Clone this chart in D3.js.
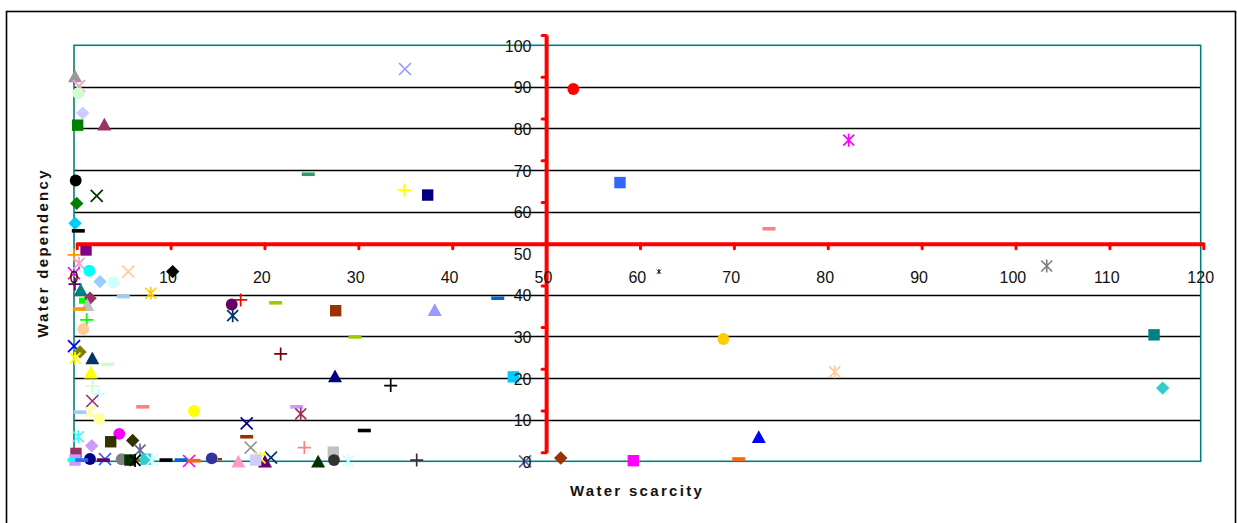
<!DOCTYPE html>
<html>
<head>
<meta charset="utf-8">
<script src="https://cdn.jsdelivr.net/npm/d3@7"></script>
<style>
  html, body { margin: 0; padding: 0; background: #fff; }
  svg { display: block; font-family: Arial, "Liberation Sans", sans-serif; }
</style>
</head>
<body>
<svg id="chart" width="1237" height="523"></svg>
<script>
// ---------------- data ----------------
const xTickValues = [0, 10, 20, 30, 40, 50, 60, 70, 80, 90, 100, 110, 120];
const yTickValues = [0, 10, 20, 30, 40, 50, 60, 70, 80, 90, 100];
const gridValues = [10, 20, 30, 40, 60, 70, 80, 90];
const xTitle = "Water scarcity";
const yTitle = "Water dependency";

// one entry per country (x = water scarcity, y = water dependency)
const scarcity = [
  0.11, 0.53, 0.46, 0.93, 0.39, 3.23, 0.18, 2.42, 0.29, 0.11, 0.46, 1.28,
  35.25, 24.95, 35.18, 37.67, 53.18, 58.15, 74.02, 82.51, 103.6, 115.03, 115.95, 81.02,
  69.16, 72.93, 70.8, 59.57, 51.84, 48.04, 36.5, 38.42, 45.13, 46.79, 62.3,
  10.51, 8.17, 17.75, 16.8, 16.9, 21.48, 27.87, 29.93, 22.01, 27.8, 7.32, 12.78,
  23.72, 24.15, 18.39, 30.92, 33.73, 18.39, 18.82, 24.53, 27.62, 27.69, 29.2, 26.0,
  20.98, 20.34, 19.81, 19.35, 17.5, 14.67, 12.25, 11.4, 12.78, 9.8,
  0.46, 1.89, 4.82, 3.91, 6.25, 7.03, 0.21, 0.11, 1.7, 3.3, 5.08, 6.39, 5.96, 7.67, 8.28,
  0.0, 0.53, 0.0, 0.1, 1.63, 2.77, 4.19, 5.78, 0.71, 1.7, 1.42, 0.85, 0.56, 5.25, 1.35, 0.99,
  0.0, 0.64, 0.11, 1.95, 3.59, 1.78, 1.95, 2.59, 1.95, 0.64, 1.7, 2.69,
  0.0, 0.82, 3.12, 6.5, 15.55
];
const dependency = [
  92.6, 90.2, 88.5, 83.7, 80.8, 81.0, 67.5, 63.8, 62.0, 57.2, 55.4, 50.8,
  94.3, 69.0, 65.2, 64.0, 89.5, 67.0, 55.9, 77.2, 46.95, 30.4, 17.6, 21.5,
  29.4, 5.9, 0.55, 0.15, 0.8, 0.0, 0.3, 36.4, 39.2, 20.3, 45.6,
  45.6, 40.4, 38.8, 37.7, 35.0, 38.1, 36.2, 29.9, 25.8, 20.5, 13.1, 12.1,
  13.1, 11.4, 9.1, 7.4, 18.2, 5.9, 3.3, 3.3, 2.2, 0.3, 0.07, 0.0,
  0.9, 0.0, 0.8, 0.3, 0.0, 0.7, 0.07, 0.3, 0.15, 0.3,
  5.9, 3.75, 6.6, 4.7, 5.0, 2.7, 1.9, 0.3, 0.55, 0.5, 0.5, 0.3, 0.3, 0.5, 0.3,
  49.6, 47.6, 45.2, 42.6, 45.8, 43.2, 43.0, 45.6, 41.2, 39.2, 37.6, 38.6, 36.6, 39.6, 34.0, 31.8,
  27.7, 26.3, 24.8, 24.8, 23.3, 21.4, 18.1, 16.2, 14.5, 11.8, 11.9, 10.2,
  0.3, 0.3, 0.3, 0.2, 0.5
];
// marker style of each series (Excel-like marker set)
const markerSymbol = [
  "triangle", "x", "circle", "diamond", "square", "triangle", "circle", "x", "diamond", "diamond", "dash", "square",
  "x", "dash", "plus", "square", "circle", "square", "dash", "star", "star", "square", "diamond", "star",
  "circle", "triangle", "dash", "square", "diamond", "x", "plus", "triangle", "dash", "square", "tinystar",
  "diamond", "star", "plus", "circle", "star", "dash", "square", "dash", "plus", "triangle", "dash", "circle",
  "dash", "star", "x", "dash", "plus", "dash", "x", "plus", "square", "circle", "star", "triangle",
  "x", "triangle", "star", "square", "triangle", "circle", "x", "dash", "dash", "dash",
  "star", "diamond", "circle", "square", "diamond", "star", "square", "square", "circle", "x", "circle", "dash", "square", "square", "star",
  "plus", "star", "x", "plus", "circle", "diamond", "circle", "x", "triangle", "diamond", "triangle", "smallsquare", "dash", "dash", "plus", "circle",
  "x", "diamond", "star", "triangle", "dash", "triangle", "plus", "plus", "x", "dash", "star", "circle",
  "dash", "dash", "dash", "star", "smalldash"
];
const markerColor = [
  "#999999", "#FF99CC", "#CCFFCC", "#CCCCFF", "#008000", "#993366", "#000000", "#003300", "#008000", "#00CCFF", "#000000", "#800080",
  "#9999FF", "#339966", "#FFFF00", "#000080", "#FF0000", "#3366FF", "#FF8080", "#FF00FF", "#808080", "#008080", "#33CCCC", "#FFCC99",
  "#FFCC00", "#0000FF", "#FF6600", "#FF00FF", "#993300", "#666699", "#333333", "#9999FF", "#0066CC", "#00CCFF", "#000000",
  "#000000", "#FFCC00", "#FF0000", "#660066", "#003366", "#99CC00", "#993300", "#99CC00", "#800000", "#000080", "#FF8080", "#FFFF00",
  "#CC99FF", "#993366", "#000080", "#000000", "#000000", "#993300", "#969696", "#FF8080", "#C0C0C0", "#333333", "#CCFFFF", "#003300",
  "#003366", "#660066", "#FFFF00", "#CCCCFF", "#FF99CC", "#333399", "#FF00FF", "#0066CC", "#FF6600", "#000000",
  "#33FFFF", "#CC99FF", "#FF00FF", "#333300", "#333300", "#666699", "#993366", "#CC99FF", "#000080", "#3366FF", "#808080", "#808000", "#003300", "#33CCCC", "#CCFFFF",
  "#FF9900", "#FF99CC", "#FF00FF", "#660066", "#00FFFF", "#99CCFF", "#CCFFFF", "#FFCC99", "#008080", "#993366", "#C0C0C0", "#00FF00", "#FF9900", "#99CCFF", "#00FF00", "#FFCC99",
  "#0000FF", "#808000", "#FFFF00", "#003366", "#CCFFCC", "#FFFF00", "#CCFFCC", "#CCFFFF", "#993366", "#99CCFF", "#FFFF99", "#FFFF99",
  "#00FFFF", "#3366FF", "#660066", "#000000", "#993300"
];

// ---------------- layout ----------------
const svg = d3.select("#chart");
const plot = { left: 74, top: 45.3, right: 1200.7, bottom: 461.3 };

const x = d3.scaleLinear().domain([0, 120]).range([plot.left, plot.right]);
const y = d3.scaleLinear().domain([0, 100]).range([plot.bottom, plot.top]);
// the red quadrant axes are a slightly offset overlay
const rx = d3.scaleLinear().domain([0, 120]).range([76.7, 1203.3]);
const ry = d3.scaleLinear().domain([0, 100]).range([452.3, 35]);

// outer frame
svg.append("rect")
  .attr("x", 6.5).attr("y", 11.5).attr("width", 1229).attr("height", 530)
  .attr("fill", "#fff").attr("stroke", "#000").attr("stroke-width", 1.6);

// gridlines
svg.append("g").selectAll("line").data(gridValues).join("line")
  .attr("x1", plot.left).attr("x2", plot.right)
  .attr("y1", d => Math.round(y(d)) + 0.5).attr("y2", d => Math.round(y(d)) + 0.5)
  .attr("stroke", "#000").attr("stroke-width", 1.3);

// plot border (teal)
svg.append("rect")
  .attr("x", plot.left).attr("y", plot.top)
  .attr("width", plot.right - plot.left).attr("height", plot.bottom - plot.top)
  .attr("fill", "none").attr("stroke", "#008080").attr("stroke-width", 1.6);

// ---------------- markers ----------------
function markerPath(type) {
  const p = d3.path();
  switch (type) {
    case "circle": return d3.symbol(d3.symbolCircle, 110)();
    case "square": return "M-5.7,-5.7H5.7V5.7H-5.7Z";
    case "smallsquare": return "M-3,-3H3V3H-3Z";
    case "diamond": return "M0,-6.7L6.7,0L0,6.7L-6.7,0Z";
    case "triangle": return "M0,-6.6L7,6.2L-7,6.2Z";
    case "dash": return "M-6.5,-1.8H6.5V1.8H-6.5Z";
    case "smalldash": return "M-2,-1.2H2V1.2H-2Z";
    case "x": p.moveTo(-6, -6); p.lineTo(6, 6); p.moveTo(6, -6); p.lineTo(-6, 6); return p.toString();
    case "plus": p.moveTo(-6.5, 0); p.lineTo(6.5, 0); p.moveTo(0, -6.5); p.lineTo(0, 6.5); return p.toString();
    case "star": p.moveTo(-5.5, -5.5); p.lineTo(5.5, 5.5); p.moveTo(5.5, -5.5); p.lineTo(-5.5, 5.5);
      p.moveTo(0, -6.5); p.lineTo(0, 6.5); return p.toString();
    case "tinystar": p.moveTo(-2, -2); p.lineTo(2, 2); p.moveTo(2, -2); p.lineTo(-2, 2);
      p.moveTo(0, -2.5); p.lineTo(0, 2.5); return p.toString();
  }
}
const lineTypes = new Set(["x", "plus", "star", "tinystar"]);

const points = scarcity.map((v, i) => ({
  x: v, y: dependency[i], sym: markerSymbol[i], color: markerColor[i]
}));

svg.append("g").selectAll("path").data(points).join("path")
  .attr("transform", d => `translate(${x(d.x)},${y(d.y)})`)
  .attr("d", d => markerPath(d.sym))
  .attr("fill", d => lineTypes.has(d.sym) ? "none" : d.color)
  .attr("stroke", d => lineTypes.has(d.sym) ? d.color : "none")
  .attr("stroke-width", d => d.sym === "tinystar" ? 1 : 1.7);

// ---------------- red quadrant axes ----------------
const redH = svg.append("g")
  .attr("transform", `translate(0,${ry(50)})`)
  .call(d3.axisBottom(rx).tickValues(xTickValues).tickSize(5).tickSizeOuter(0).tickFormat(""));
redH.select(".domain").attr("stroke", "#FF0000").attr("stroke-width", 4);
redH.selectAll(".tick line").attr("stroke", "#FF0000").attr("stroke-width", 3).attr("stroke-linecap", "round");

const redV = svg.append("g")
  .attr("transform", `translate(${rx(50)},0)`)
  .call(d3.axisLeft(ry).tickValues(yTickValues).tickSize(4).tickSizeOuter(0).tickFormat(""));
redV.select(".domain").attr("stroke", "#FF0000").attr("stroke-width", 4);
redV.selectAll(".tick line").attr("stroke", "#FF0000").attr("stroke-width", 3).attr("stroke-linecap", "round");

// ---------------- tick labels (main scales) ----------------
svg.append("g").selectAll("text").data(xTickValues).join("text")
  .attr("x", d => x(d)).attr("y", 277)
  .attr("text-anchor", "middle").attr("dominant-baseline", "central")
  .attr("font-size", 16).attr("fill", "#111")
  .text(d => d);

svg.append("g").selectAll("text").data(yTickValues).join("text")
  .attr("x", 531.5).attr("y", d => y(d) + 1)
  .attr("text-anchor", "end").attr("dominant-baseline", "central")
  .attr("font-size", 16).attr("fill", "#111")
  .text(d => d);

// ---------------- axis titles ----------------
svg.append("text")
  .attr("x", 637).attr("y", 490)
  .attr("text-anchor", "middle").attr("dominant-baseline", "central")
  .attr("font-size", 15).attr("font-weight", "bold").attr("letter-spacing", 2.3)
  .attr("fill", "#111")
  .text(xTitle);

svg.append("text")
  .attr("transform", "translate(42,253) rotate(-90)")
  .attr("text-anchor", "middle").attr("dominant-baseline", "central")
  .attr("font-size", 15).attr("font-weight", "bold").attr("letter-spacing", 2.3)
  .attr("fill", "#111")
  .text(yTitle);
</script>
</body>
</html>
